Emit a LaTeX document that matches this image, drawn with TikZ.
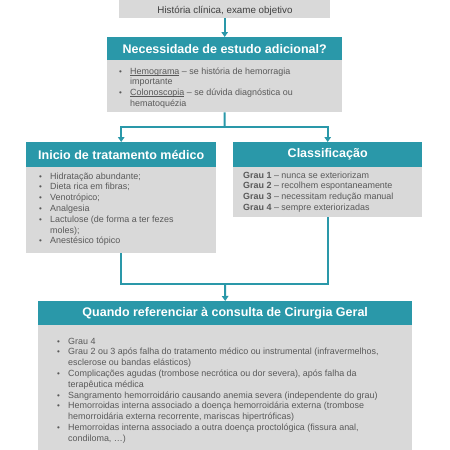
\documentclass[tikz,border=0pt]{standalone}
\usepackage{fontspec}
\setmainfont{Liberation Sans}
\usetikzlibrary{arrows.meta}
\definecolor{tealc}{HTML}{2A98A9}
\definecolor{graybox}{HTML}{D9D9D9}
\definecolor{txtc}{HTML}{595959}
\definecolor{toptxt}{HTML}{404040}
\newcommand\bitem[1]{\par\hangindent=11pt\hangafter=1\noindent\makebox[11pt][l]{\footnotesize\textbullet}#1}
\newcommand\blist[1]{\begin{minipage}[t]{360pt}\raggedright\fontsize{8.95}{10.8}\selectfont #1\end{minipage}}
\newcommand\myul[1]{{\setbox0\hbox{#1}\rlap{\rule[-1.4pt]{\wd0}{0.55pt}}\box0}}
\begin{document}
\begin{tikzpicture}[x=1pt,y=-1pt,
  hdr/.style={fill=tealc, draw=none, text=white, font=\fontsize{12.5}{14}\selectfont\bfseries, anchor=north west, inner sep=0pt},
  bodybox/.style={fill=graybox, draw=none, anchor=north west, inner sep=0pt},
  btxt/.style={anchor=base west, inner sep=0pt, text=txtc},
  conn/.style={draw=tealc, line width=2pt},
  arr/.style={conn, -{Triangle[width=6.5pt,length=5pt]}}]
\useasboundingbox (0,0) rectangle (450,450);
\clip (0,0) rectangle (450,450);

% top box
\node[bodybox, minimum width=211pt, minimum height=23pt] (top) at (119,-5) {};
\node[inner sep=0pt, text=toptxt, font=\fontsize{9.8}{11}\selectfont, anchor=base] (toptext) at (225,13) {História clínica, exame objetivo};

% box 2
\node[hdr, minimum width=235pt, minimum height=23pt] (h2) at (107,37) {Necessidade de estudo adicional?};
\node[bodybox, minimum width=235pt, minimum height=52pt] (b2) at (107,60) {};
\node[btxt] (t2) at (119,74) {\blist{\bitem{\myul{Hemograma} – se história de hemorragia\newline importante}\bitem{\myul{Colonoscopia} – se dúvida diagnóstica ou\newline hematoquézia}}};

% left box
\node[hdr, minimum width=190pt, minimum height=25pt] (hL) at (26,142) {Inicio de tratamento médico};
\node[bodybox, minimum width=190pt, minimum height=86pt] (bL) at (26,167) {};
\node[btxt] (tL) at (39,179) {\blist{\bitem{Hidratação abundante;}\bitem{Dieta rica em fibras;}\bitem{Venotrópico;}\bitem{Analgesia}\bitem{Lactulose (de forma a ter fezes\newline moles);}\bitem{Anestésico tópico}}};

% right box
\node[hdr, minimum width=189pt, minimum height=25pt] (hR) at (233,142) {Classificação};
\node[bodybox, minimum width=189pt, minimum height=50pt] (bR) at (233,167) {};
\node[btxt] (tR) at (243,178) {\blist{\textbf{Grau 1} – nunca se exteriorizam\\\textbf{Grau 2} – recolhem espontaneamente\\\textbf{Grau 3} – necessitam redução manual\\\textbf{Grau 4} – sempre exteriorizadas}};

% bottom box
\node[hdr, minimum width=374pt, minimum height=24pt] (hQ) at (38,301) {Quando referenciar à consulta de Cirurgia Geral};
\node[bodybox, minimum width=374pt, minimum height=140pt] (bQ) at (38,325) {};
\node[btxt] (tQ) at (57,344) {\blist{\bitem{Grau 4}\bitem{Grau 2 ou 3 após falha do tratamento médico ou instrumental (infravermelhos,\newline esclerose ou bandas elásticos)}\bitem{Complicações agudas (trombose necrótica ou dor severa), após falha da\newline terapêutica médica}\bitem{Sangramento hemorroidário causando anemia severa (independente do grau)}\bitem{Hemorroidas interna associado a doença hemorroidária externa (trombose\newline hemorroidária externa recorrente, mariscas hipertróficas)}\bitem{Hemorroidas interna associado a outra doença proctológica (fissura anal,\newline condiloma, …)}}};

% connectors
\draw[arr] (top.south) -- (h2.north);
\coordinate (j1) at (224.5,127);
\draw[conn] (b2.south) -- (j1);
\draw[arr] (j1) -| (hL.north);
\draw[arr] (j1) -| (hR.north);
\coordinate (j2) at (225,284);
\draw[conn] (bL.south) |- (j2);
\draw[conn] (bR.south) |- (j2);
\draw[arr] (j2) -- (hQ.north);
\end{tikzpicture}
\end{document}
